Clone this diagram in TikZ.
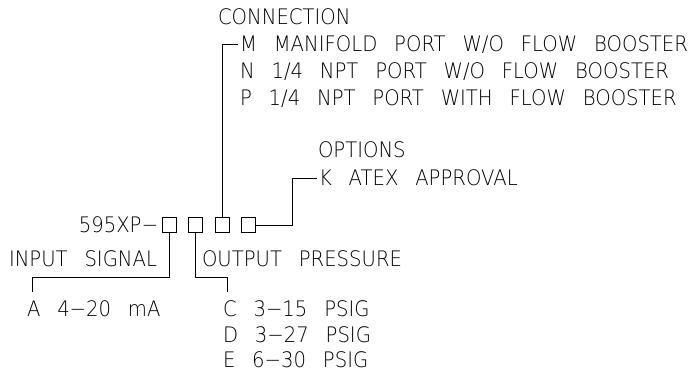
\documentclass[tikz,border=0pt]{standalone}
\usepackage{fontspec}
\setmainfont{DejaVuSans-ExtraLight.ttf}[WordSpace=2.7,FakeStretch=0.92]
\begin{document}
\begin{tikzpicture}[x=0.75pt,y=-0.75pt,line width=0.65pt,
  every node/.style={font=\fontsize{16}{19}\selectfont},
  cell/.style={draw,inner sep=0pt,minimum width=10.5pt,minimum height=11.25pt},
  txt/.style={anchor=west,inner sep=0pt,outer sep=1.5pt,text height=11.6pt,text depth=0pt}]
\useasboundingbox (0,0) rectangle (700,371);

% model code and its four cells
\node[txt,anchor=east,outer sep=0pt] (model) at (158,225) {595XP−};
\node[cell] (b1) at (169,225) {};
\node[cell] (b2) at (195.5,225) {};
\node[cell] (b3) at (222,225) {};
\node[cell] (b4) at (248.5,225) {};

% connection
\node[txt] (conn) at (216,17) {CONNECTION};
\node[txt] (optM) at (238,44) {M MANIFOLD PORT W/O FLOW BOOSTER};
\node[txt] (optN) at (238,71) {N 1/4 NPT PORT W/O FLOW BOOSTER};
\node[txt] (optP) at (238,98) {P 1/4 NPT PORT WITH FLOW BOOSTER};
\draw (b3.north) |- (optM.west);

% options
\node[txt] (opts) at (316,150) {OPTIONS};
\node[txt] (optK) at (317,178) {K ATEX APPROVAL};
\coordinate (kneeK) at (292,225);
\draw (b4.east) -- (kneeK) |- (optK.west);

% input signal
\node[txt] (inp) at (7,259) {INPUT SIGNAL};
\node[txt] (optA) at (25,309) {A 4−20 mA};
\coordinate (kneeA) at (32,277);
\coordinate (endA) at (32,292);
\draw (b1.south) |- (kneeA) -- (endA);

% output pressure
\node[txt] (outp) at (200,259) {OUTPUT PRESSURE};
\node[txt] (optC) at (221,309) {C 3−15 PSIG};
\node[txt] (optD) at (221,335) {D 3−27 PSIG};
\node[txt] (optE) at (221,360) {E 6−30 PSIG};
\coordinate (kneeC) at (227,277);
\coordinate (endC) at (227,292);
\draw (b2.south) |- (kneeC) -- (endC);
\end{tikzpicture}
\end{document}
